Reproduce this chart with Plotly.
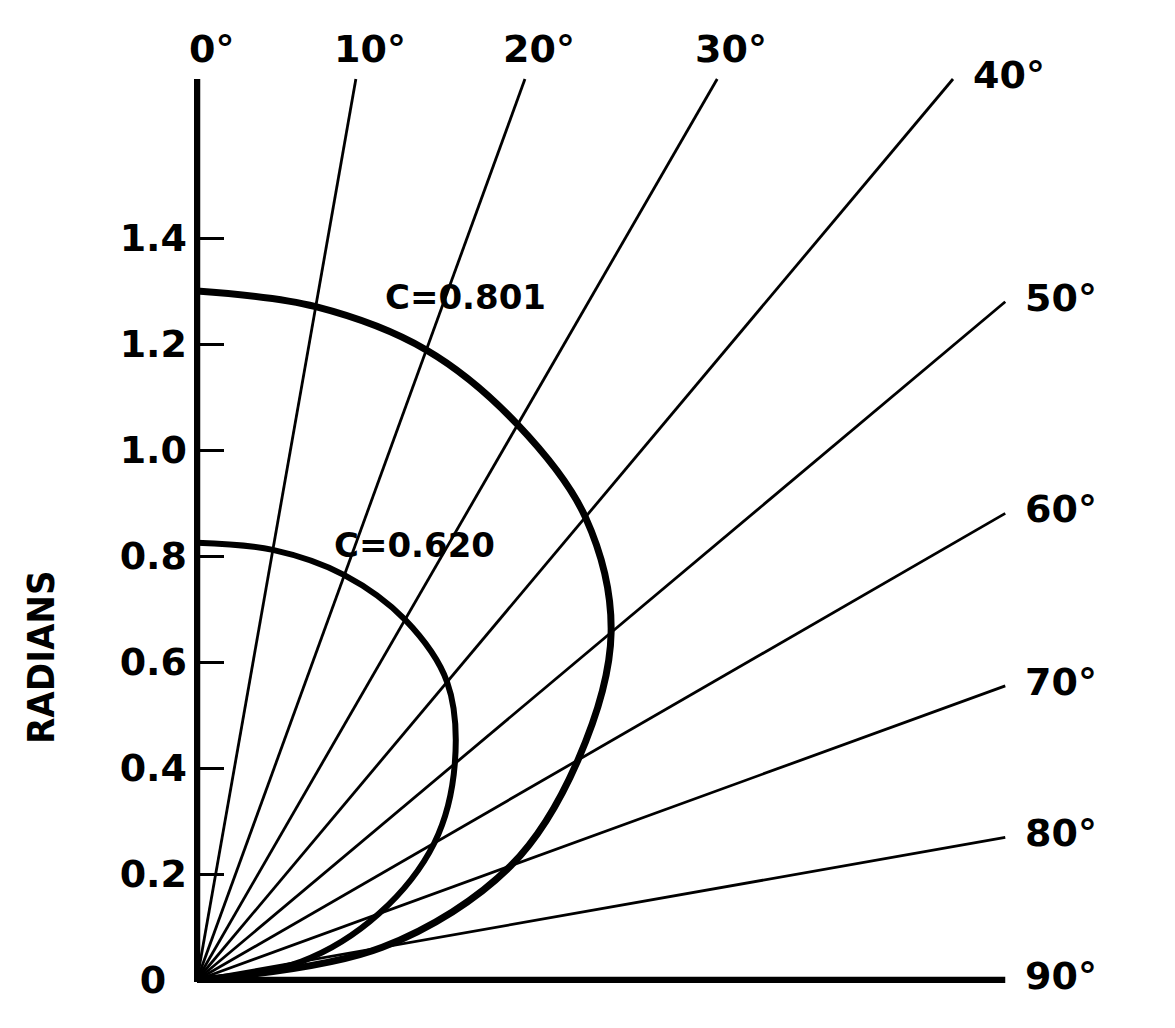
import numpy as np
import plotly.graph_objects as go

# ---------------- data ----------------
angles_deg = [0, 10, 20, 30, 40, 50, 60, 70, 80, 90]
angle_labels = ["0°", "10°", "20°", "30°", "40°", "50°", "60°", "70°", "80°", "90°"]

# radius (radians) of each curve on the rays 0..90 deg
r_c0801 = [1.30, 1.29, 1.265, 1.21, 1.14, 1.02, 0.83, 0.63, 0.355, 0.0]
r_c0620 = [0.825, 0.824, 0.813, 0.785, 0.734, 0.635, 0.517, 0.365, 0.20, 0.0]
curve_names = ["C=0.801", "C=0.620"]

radial_tickvals = [0, 0.2, 0.4, 0.6, 0.8, 1.0, 1.2, 1.4]
radial_ticktext = ["0\u00a0\u2009", "0.2", "0.4", "0.6", "0.8", "1.0", "1.2", "1.4"]

# ---------------- geometry of the frame ----------------
SCALE = 530.0          # px per radian
OX, OY = 197, 980      # origin in page pixels
W, H = 1175, 1028
ML, MB = 194, 45       # plot area left / bottom edges
XMAX, YMAX = 1.525, 1.70   # rays stop at this rectangle

x_range = [(ML - OX) / SCALE, (W - OX) / SCALE]
y_range = [-(H - MB - OY) / SCALE, OY / SCALE]
plot_w = W - ML

FONT = "DejaVu Sans"

fig = go.Figure()

# rays
ann = []
for a, lab in zip(angles_deg, angle_labels):
    th = np.radians(a)
    s, c = np.sin(th), np.cos(th)
    lx = XMAX / s if s > 1e-9 else np.inf
    ly = YMAX / c if c > 1e-9 else np.inf
    L = min(lx, ly)
    xe, ye = L * s, L * c
    thick = a in (0, 90)
    fig.add_trace(go.Scatter(
        x=[0, xe], y=[0, ye], mode="lines",
        line=dict(color="black", width=6.5 if thick else 2.8),
        hoverinfo="skip", showlegend=False))
    if xe >= 0.9 * XMAX:
        ann.append(dict(x=xe, y=ye, text=lab, xanchor="left", yanchor="middle",
                        xshift=18, yshift=4, showarrow=False,
                        font=dict(family=FONT, size=38, color="black", weight="bold")))
    else:
        ann.append(dict(x=xe, y=ye, text=lab, xanchor="center", yanchor="bottom",
                        xshift=14, yshift=6, showarrow=False,
                        font=dict(family=FONT, size=38, color="black", weight="bold")))

# curves
for name, rr, w in zip(curve_names, [r_c0801, r_c0620], [7, 6]):
    th = np.radians(angles_deg)
    r = np.array(rr)
    fig.add_trace(go.Scatter(
        x=r * np.sin(th), y=r * np.cos(th), mode="lines", name=name,
        line=dict(color="black", width=w, shape="spline", smoothing=1.0),
        hoverinfo="skip", showlegend=False))

# curve labels
ann.append(dict(x=(465 - OX) / SCALE, y=(OY - 297) / SCALE, text=curve_names[0],
                showarrow=False, xanchor="center", yanchor="middle",
                font=dict(family=FONT, size=34, color="black", weight="bold")))
ann.append(dict(x=(414 - OX) / SCALE, y=(OY - 545) / SCALE, text=curve_names[1],
                showarrow=False, xanchor="center", yanchor="middle",
                font=dict(family=FONT, size=34, color="black", weight="bold")))

# axis title (paper x so it is not hidden outside the x range)
ann.append(dict(xref="paper", x=(41 - ML) / plot_w, y=(OY - 657) / SCALE, text="RADIANS",
                textangle=-90, showarrow=False, xanchor="center", yanchor="middle",
                font=dict(family="Liberation Sans Narrow, DejaVu Sans Condensed, Roboto Condensed, DejaVu Sans",
                          size=38, color="black", weight="bold")))

fig.update_layout(
    width=W, height=H,
    margin=dict(l=ML, r=0, t=0, b=MB, pad=0),
    paper_bgcolor="white", plot_bgcolor="white",
    annotations=ann,
    xaxis=dict(range=x_range, visible=False, fixedrange=True),
    yaxis=dict(range=y_range, showgrid=False, zeroline=False, showline=False,
               ticks="inside", ticklen=30, tickwidth=3, tickcolor="black",
               tickvals=radial_tickvals, ticktext=radial_ticktext,
               ticklabelstandoff=6,
               tickfont=dict(family=FONT, size=38, color="black", weight="bold"),
               fixedrange=True),
)

fig.write_html("out.html")
